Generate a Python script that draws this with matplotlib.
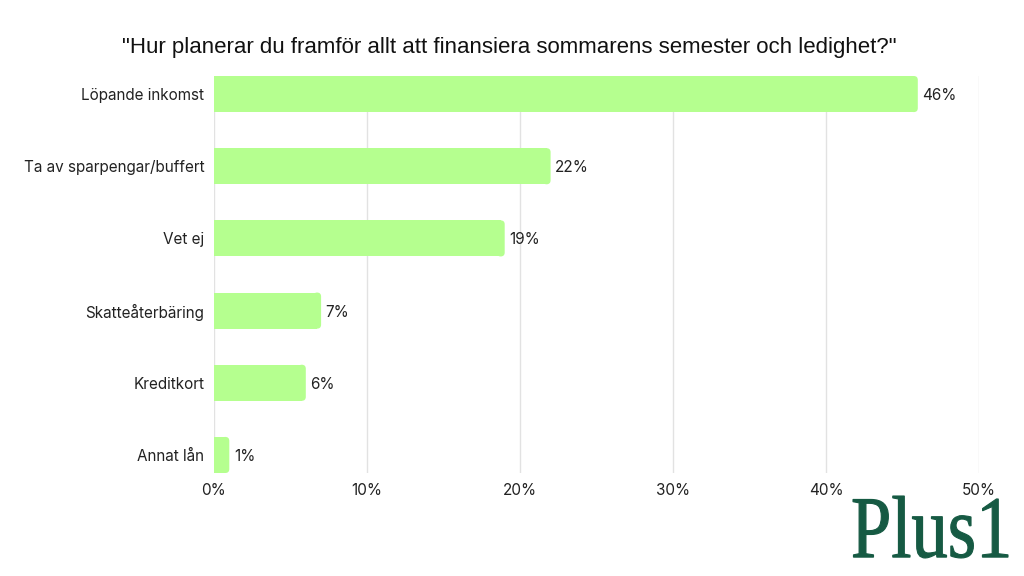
import matplotlib.pyplot as plt
from matplotlib.patches import FancyBboxPatch, PathPatch
from matplotlib.textpath import TextPath
from matplotlib.font_manager import FontProperties
from matplotlib.transforms import Affine2D

# Data
categories = ['Löpande inkomst', 'Ta av sparpengar/buffert', 'Vet ej',
              'Skatteåterbäring', 'Kreditkort', 'Annat lån']
values = [46, 22, 19, 7, 6, 1]
xticks = [0, 10, 20, 30, 40, 50]
title = '"Hur planerar du framför allt att finansiera sommarens semester och ledighet?"'

bar_color = '#b5ff8f'
plt.rcParams['font.family'] = ['Inter', 'DejaVu Sans']

fig = plt.figure(figsize=(10.24, 5.76), dpi=100)
ax = fig.add_axes([214 / 1024, 1 - 473 / 576, 765 / 1024, 397 / 576])

bar_h = 0.5
px_x = 765 / 50      # pixels per percent
px_y = 397 / 5.5     # pixels per category slot
r = 4 / px_x         # corner radius in x units
aspect = px_x / px_y

for i, v in enumerate(values):
    ax.barh(i, v - r, height=bar_h, color=bar_color, zorder=2)
    ax.add_patch(FancyBboxPatch((v - 2 * r, i - bar_h / 2), 2 * r, bar_h,
                                boxstyle=f'round,pad=0,rounding_size={r}',
                                mutation_aspect=aspect, facecolor=bar_color,
                                edgecolor='none', zorder=2))
    ax.text(v + 0.3, i, f'{v}%', va='center_baseline', ha='left', fontsize=11, color='#222222')

ax.set_xlim(0, 50)
ax.set_ylim(5.25, -0.25)
ax.set_yticks(range(len(categories)))
ax.set_yticklabels(categories, fontsize=11, color='#222222')
ax.set_xticks(xticks)
ax.set_xticklabels([f'{t}%' for t in xticks], fontsize=11, color='#222222')
ax.tick_params(length=0, pad=7)
ax.tick_params(axis='y', pad=7)
ax.grid(axis='x', color='#e2e2e2', linewidth=1, zorder=0)
ax.set_axisbelow(True)
for s in ax.spines.values():
    s.set_visible(False)

fig.text(0.497, 1 - 47 / 576, title, ha='center', va='center',
         fontsize=16, family=['Liberation Sans', 'DejaVu Sans'], color='#111111')

# Logo
tp = TextPath((0, 0), 'Plus1', size=1, prop=FontProperties(family='Liberation Serif'))
ext = tp.get_extents()
w_px, h_px = 155, 62
tr = (Affine2D().translate(-ext.x0, -ext.y0)
      .scale(w_px / ext.width, h_px / ext.height)
      .translate(853, 576 - 558))
fig.patches.append(PathPatch(tp, transform=tr, facecolor='#165a43',
                             edgecolor='#165a43', linewidth=0.8, figure=fig))

fig.savefig('out.png', dpi=100, facecolor='white')
